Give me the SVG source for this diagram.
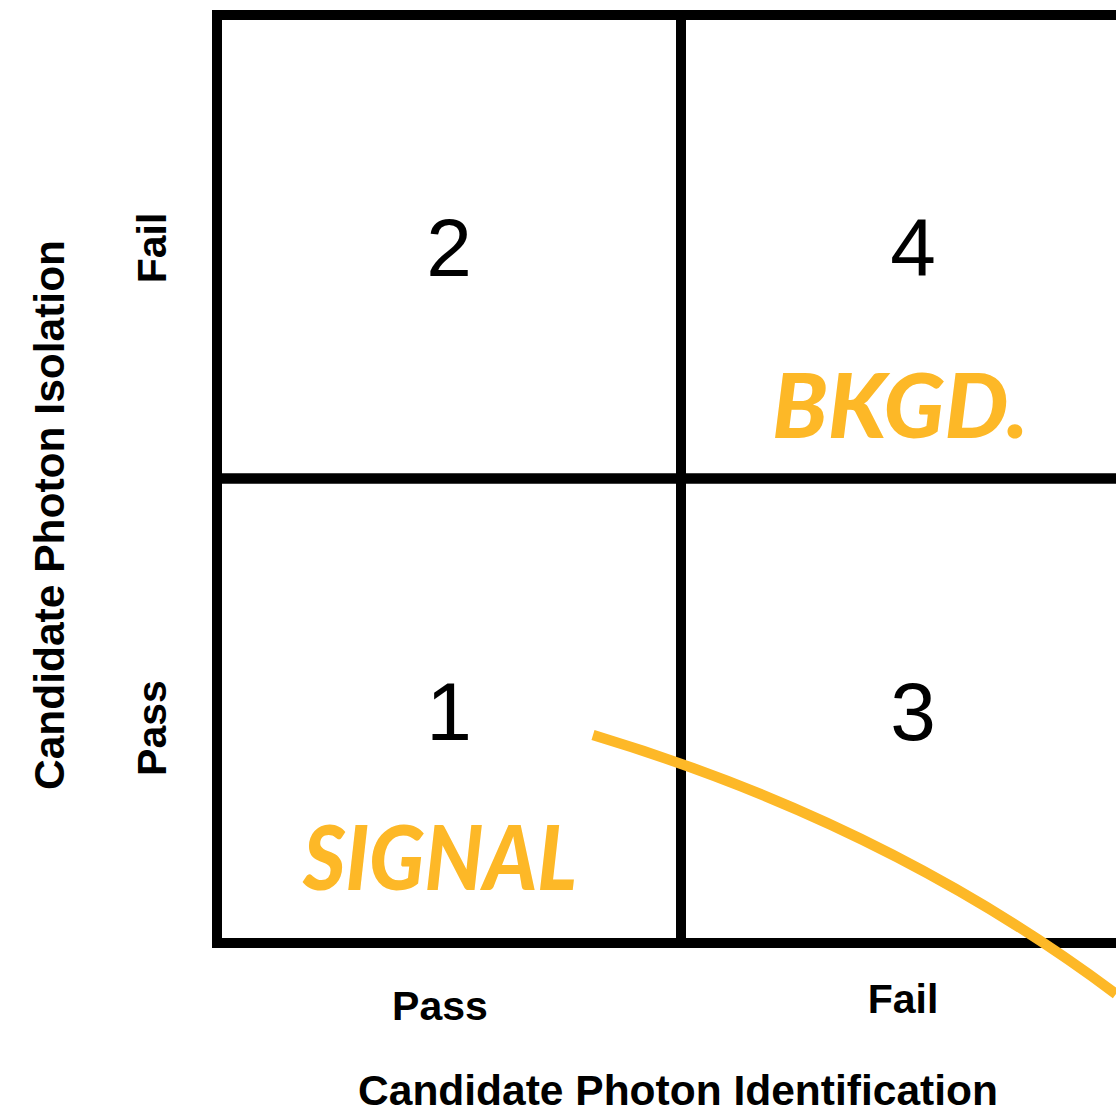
<svg xmlns="http://www.w3.org/2000/svg" width="1116" height="1116" viewBox="0 0 1116 1116">
  <style>
    .grid { fill: none; stroke: #000; stroke-width: 10; }
    .num { font-family: "Liberation Sans", Arial, sans-serif; font-size: 82px; fill: #000; text-anchor: middle; }
    .axis { font-family: "Liberation Sans", Arial, sans-serif; font-weight: bold; font-size: 41px; fill: #000; text-anchor: middle; }
    .title { font-family: "Liberation Sans", Arial, sans-serif; font-weight: bold; font-size: 42.5px; fill: #000; text-anchor: middle; }
    .hand { font-family: "Lato", "DejaVu Sans", sans-serif; font-weight: 900; font-style: italic; font-size: 90px; fill: #FDB827; }
    .curve { fill: none; stroke: #FDB827; stroke-width: 10.5; stroke-linecap: butt; }
  </style>
  <rect width="1116" height="1116" fill="#fff"/>

  <g id="cell-1">
    <rect class="grid" x="217" y="478.5" width="464" height="464.5"/>
    <text class="num" x="449" y="740">1</text>
    <text class="hand" x="303" y="890" textLength="274" lengthAdjust="spacingAndGlyphs">SIGNAL</text>
  </g>
  <g id="cell-2">
    <rect class="grid" x="217" y="15" width="464" height="463.5"/>
    <text class="num" x="449" y="276">2</text>
  </g>
  <g id="cell-3">
    <rect class="grid" x="681" y="478.5" width="464" height="464.5"/>
    <text class="num" x="913" y="740">3</text>
  </g>
  <g id="cell-4">
    <rect class="grid" x="681" y="15" width="464" height="463.5"/>
    <text class="num" x="913" y="276">4</text>
    <text class="hand" x="772" y="438" textLength="256" lengthAdjust="spacingAndGlyphs">BKGD.</text>
  </g>

  <g id="labels">
    <text class="title" transform="translate(64,515) rotate(-90)">Candidate Photon Isolation</text>
    <text class="axis" transform="translate(166,248) rotate(-90)">Fail</text>
    <text class="axis" transform="translate(166,728) rotate(-90)">Pass</text>
    <text class="axis" x="440" y="1020">Pass</text>
    <text class="axis" x="903" y="1013">Fail</text>
    <text class="title" x="678" y="1105">Candidate Photon Identification</text>
  </g>

  <g id="connectors">
    <path class="curve" d="M593,735 Q889,824 1116,994"/>
  </g>
</svg>
